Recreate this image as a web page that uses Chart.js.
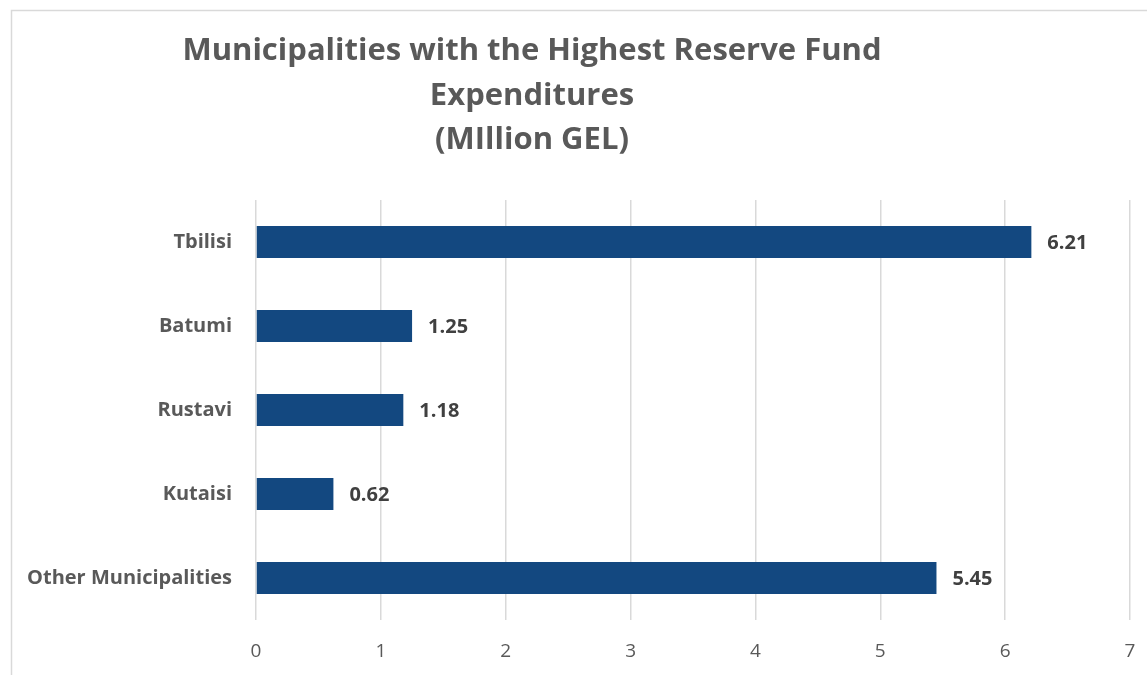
<!DOCTYPE html>
<html>
<head>
<meta charset="utf-8">
<script src="https://cdn.jsdelivr.net/npm/chart.js@4"></script>
<style>
  html, body { margin: 0; padding: 0; background: #fff; overflow: hidden; }
  #wrap { position: absolute; left: 0; top: 0; width: 1147px; height: 675px; }
</style>
</head>
<body>
<div id="wrap"><canvas id="chart"></canvas></div>
<script>
// data
const municipalities = ["Tbilisi", "Batumi", "Rustavi", "Kutaisi", "Other Municipalities"];
const expenditures = [6.21, 1.25, 1.18, 0.62, 5.45];
const titleLines = ["Municipalities with the Highest Reserve Fund", "Expenditures", "(MIllion GEL)"];

const FONT = "'Open Sans', sans-serif";

// frame + title drawn by hand, the title is not centred on the canvas
const frameAndTitle = {
  id: "frameAndTitle",
  beforeDraw(chart) {
    const ctx = chart.ctx;
    ctx.save();
    ctx.strokeStyle = "#d9d9d9";
    ctx.lineWidth = 1.5;
    ctx.strokeRect(11.5, 10.5, 1200, 700);
    ctx.fillStyle = "#595959";
    ctx.font = "bold 31px " + FONT;
    ctx.textAlign = "center";
    ctx.textBaseline = "middle";
    const ys = [51, 96, 140];
    titleLines.forEach((line, i) => ctx.fillText(line, 532, ys[i]));
    ctx.restore();
  }
};

// value labels at the end of each bar
const valueLabels = {
  id: "valueLabels",
  afterDatasetsDraw(chart) {
    const ctx = chart.ctx;
    const meta = chart.getDatasetMeta(0);
    ctx.save();
    ctx.fillStyle = "#404040";
    ctx.font = "bold 20px " + FONT;
    ctx.textAlign = "left";
    ctx.textBaseline = "middle";
    meta.data.forEach((bar, i) => {
      ctx.fillText(expenditures[i].toFixed(2), bar.x + 16, bar.y + 1);
    });
    ctx.restore();
  }
};

new Chart(document.getElementById("chart"), {
  type: "bar",
  data: {
    labels: municipalities,
    datasets: [{
      data: expenditures,
      backgroundColor: "#134880",
      borderWidth: 0,
      barPercentage: 0.38,
      categoryPercentage: 1
    }]
  },
  options: {
    indexAxis: "y",
    responsive: true,
    maintainAspectRatio: false,
    animation: false,
    layout: { padding: { top: 200, right: 17, left: 0, bottom: 0 } },
    plugins: {
      legend: { display: false },
      title: { display: false },
      tooltip: { enabled: false }
    },
    scales: {
      x: {
        min: 0,
        max: 7,
        ticks: {
          stepSize: 1,
          color: "#595959",
          font: { family: FONT, size: 19 },
          padding: 20
        },
        grid: { color: "#d9d9d9", lineWidth: 1.5, drawTicks: false },
        border: { display: false },
        afterFit(scale) {
          scale.height = 55;
          scale.paddingRight = 0;
          scale.paddingLeft = 0;
        }
      },
      y: {
        ticks: {
          color: "#595959",
          font: { family: FONT, size: 20, weight: "bold" },
          padding: 24
        },
        grid: { display: false, drawTicks: false },
        border: { display: false },
        afterFit(scale) { scale.width = 256; }
      }
    }
  },
  plugins: [frameAndTitle, valueLabels]
});
</script>
</body>
</html>
